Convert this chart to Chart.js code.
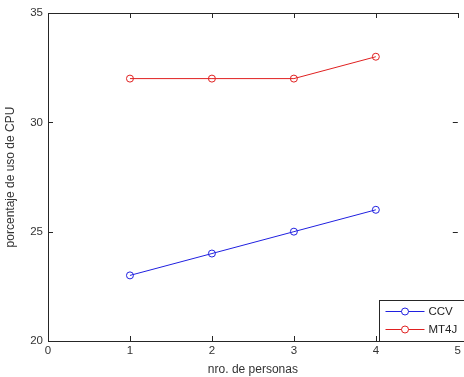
<!DOCTYPE html>
<html>
<head>
<meta charset="utf-8">
<script src="https://cdn.jsdelivr.net/npm/chart.js@4/dist/chart.umd.min.js"></script>
<style>
  html, body { margin: 0; padding: 0; background: #fff; }
  #wrap { width: 464px; height: 377px; }
</style>
</head>
<body>
<div id="wrap"><canvas id="c" width="464" height="377"></canvas></div>
<script>
const personas = [1, 2, 3, 4];
const ccv = [23, 24, 25, 26];
const mt4j = [32, 32, 32, 33];
const seriesNames = ['CCV', 'MT4J'];
const xTicks = [0, 1, 2, 3, 4, 5];
const yTicks = [20, 25, 30, 35];

const FONT = { family: 'Arial, "Liberation Sans", sans-serif', size: 11.5 };
const TITLE_FONT = { family: 'Arial, "Liberation Sans", sans-serif', size: 12 };

// matlab style box + inward ticks
const axesBox = {
    id: 'axesBox',
    afterDraw(chart) {
        const { ctx, chartArea: a, scales } = chart;
        ctx.save();
        ctx.strokeStyle = '#262626';
        ctx.lineWidth = 1;
        ctx.beginPath();
        ctx.moveTo(a.left + 0.5, a.bottom + 0.5);
        ctx.lineTo(a.left + 0.5, a.top + 0.5);
        ctx.lineTo(a.right + 1, a.top + 0.5);
        ctx.moveTo(a.left, a.bottom + 0.5);
        ctx.lineTo(a.right + 1, a.bottom + 0.5);
        for (const v of xTicks) {
            const x = Math.round(scales.x.getPixelForValue(v)) + 0.5;
            ctx.moveTo(x, a.bottom); ctx.lineTo(x, a.bottom - 5);
            ctx.moveTo(x, a.top); ctx.lineTo(x, a.top + 5);
        }
        for (const v of yTicks) {
            const y = Math.round(scales.y.getPixelForValue(v)) + 0.5;
            ctx.moveTo(a.left, y); ctx.lineTo(a.left + 5, y);
            ctx.moveTo(a.right, y); ctx.lineTo(a.right - 5, y);
        }
        ctx.stroke();

        // legend box at bottom right
        const w = 90, h = 41;
        const lx = 379.5, ly = a.bottom - h + 0.5;
        ctx.fillStyle = '#fff';
        ctx.fillRect(lx, ly, w, h);
        ctx.strokeStyle = '#262626';
        ctx.strokeRect(lx, ly, w, h);
        ctx.font = '11.5px ' + FONT.family;
        ctx.textBaseline = 'middle';
        chart.data.datasets.forEach((ds, i) => {
            const yy = ly + 11 + i * 18;
            ctx.strokeStyle = ds.borderColor;
            ctx.beginPath();
            ctx.moveTo(lx + 6, yy); ctx.lineTo(lx + 45, yy);
            ctx.stroke();
            ctx.beginPath();
            ctx.arc(lx + 25.5, yy, 3.5, 0, Math.PI * 2);
            ctx.fillStyle = '#fff';
            ctx.fill();
            ctx.stroke();
            ctx.fillStyle = '#222';
            ctx.fillText(ds.label, lx + 49, yy + 0.5);
        });
        ctx.restore();
    }
};

new Chart(document.getElementById('c'), {
    type: 'line',
    data: {
        datasets: [
            {
                label: seriesNames[0],
                data: personas.map((p, i) => ({ x: p, y: ccv[i] })),
                borderColor: '#2020e0',
                backgroundColor: '#ffffff',
                borderWidth: 1,
                pointRadius: 3.5,
                pointBorderWidth: 1,
                pointBackgroundColor: 'rgba(255,255,255,0)',
                tension: 0
            },
            {
                label: seriesNames[1],
                data: personas.map((p, i) => ({ x: p, y: mt4j[i] })),
                borderColor: '#e02020',
                backgroundColor: '#ffffff',
                borderWidth: 1,
                pointRadius: 3.5,
                pointBorderWidth: 1,
                pointBackgroundColor: 'rgba(255,255,255,0)',
                tension: 0
            }
        ]
    },
    options: {
        responsive: false,
        animation: false,
        layout: { padding: { top: 13, right: 1, left: 0, bottom: 0 } },
        plugins: {
            legend: { display: false },
            tooltip: { enabled: false }
        },
        scales: {
            x: {
                type: 'linear',
                min: 0,
                max: 5,
                afterFit(s) { s.height = 36; },
                afterBuildTicks(s) { s.ticks = xTicks.map(v => ({ value: v })); },
                grid: { display: false, drawTicks: false },
                border: { display: false },
                ticks: { color: '#333', font: FONT, padding: 3, maxRotation: 0 },
                title: { display: true, text: 'nro. de personas', color: '#333', font: TITLE_FONT, padding: { top: 0, bottom: 0 } }
            },
            y: {
                min: 20,
                max: 35,
                afterFit(s) { s.width = 48; },
                afterBuildTicks(s) { s.ticks = yTicks.map(v => ({ value: v })); },
                grid: { display: false, drawTicks: false },
                border: { display: false },
                ticks: { color: '#333', font: FONT, padding: 5 },
                title: { display: true, text: 'porcentaje de uso de CPU', color: '#333', font: TITLE_FONT, padding: { top: 3, bottom: 4 } }
            }
        }
    },
    plugins: [axesBox]
});
</script>
</body>
</html>
